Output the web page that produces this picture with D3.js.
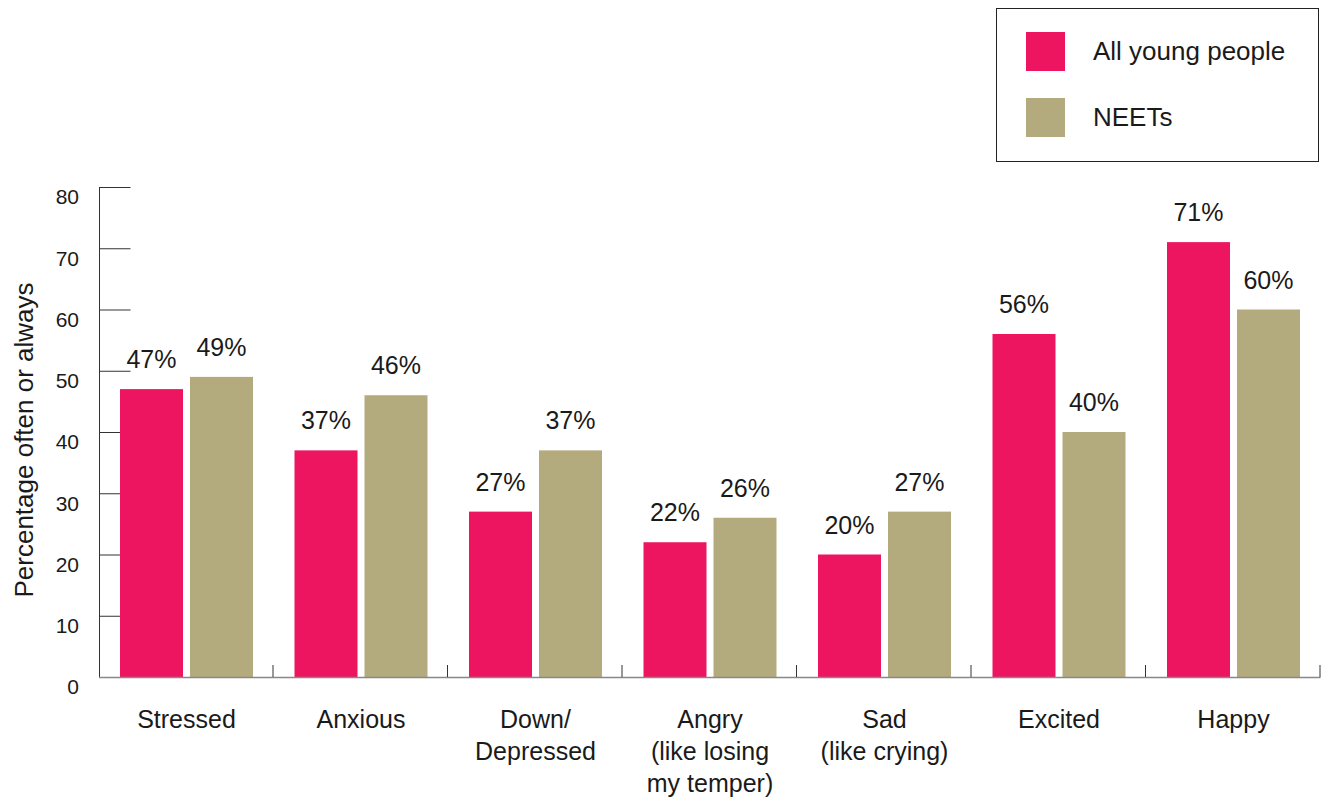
<!DOCTYPE html>
<html>
<head>
<meta charset="utf-8">
<script src="https://cdn.jsdelivr.net/npm/d3@7"></script>
<style>
  html, body { margin: 0; padding: 0; background: #fff; }
  svg { display: block; font-family: "Liberation Sans", Arial, Helvetica, sans-serif; }
</style>
</head>
<body>
<svg id="chart" width="1324" height="798"></svg>
<script>
const categories = ["Stressed", "Anxious", "Down/\nDepressed", "Angry\n(like losing\nmy temper)", "Sad\n(like crying)", "Excited", "Happy"];
const seriesNames = ["All young people", "NEETs"];
const allYoungPeople = [47, 37, 27, 22, 20, 56, 71];
const neets = [49, 46, 37, 26, 27, 40, 60];
const yTicks = [0, 10, 20, 30, 40, 50, 60, 70, 80];
const colors = ["#ED1460", "#B3AB7E"];
const yLabel = "Percentage often or always";

const svg = d3.select("#chart");
const x0 = 99, x1 = 1320.5, yTop = 187, yBot = 677;

const x = d3.scaleBand().domain(d3.range(categories.length)).range([x0, x1]).padding(0);
const xs = d3.scaleBand().domain([0, 1]).range([21, 154]).paddingInner(0.1).paddingOuter(0);
const y = d3.scaleLinear().domain([0, 80]).range([yBot, yTop]);

const series = [allYoungPeople, neets];
const data = [];
categories.forEach((c, i) => series.forEach((s, j) => data.push({ i, j, v: s[i] })));

// Y axis
const yAxis = d3.axisRight(y).tickValues(yTicks).tickSize(31).tickFormat("");
const ya = svg.append("g").attr("transform", `translate(${x0 + 0.5},0)`).call(yAxis);
ya.select(".domain").remove();
ya.selectAll(".tick line").attr("stroke", "#333").attr("stroke-width", 1);
svg.append("line").attr("x1", x0 + 0.5).attr("x2", x0 + 0.5).attr("y1", yTop).attr("y2", yBot)
  .attr("stroke", "#333").attr("stroke-width", 1);

svg.append("g").selectAll("text").data(yTicks).join("text")
  .attr("x", 79).attr("y", d => y(d) + 10).attr("dy", "0.35em")
  .attr("text-anchor", "end").attr("font-size", 21).attr("fill", "#1a1a1a")
  .text(d => d);

svg.append("text")
  .attr("transform", `translate(33,440) rotate(-90)`)
  .attr("text-anchor", "middle").attr("font-size", 26).attr("fill", "#1a1a1a")
  .text(yLabel);

// Bars
svg.append("g").selectAll("rect").data(data).join("rect")
  .attr("x", d => x(d.i) + xs(d.j))
  .attr("width", xs.bandwidth())
  .attr("y", d => y(d.v))
  .attr("height", d => y(0) - y(d.v))
  .attr("fill", d => colors[d.j]);

// Value labels
svg.append("g").selectAll("text").data(data).join("text")
  .attr("x", d => x(d.i) + xs(d.j) + xs.bandwidth() / 2)
  .attr("y", d => y(d.v) - 21)
  .attr("text-anchor", "middle").attr("font-size", 25).attr("fill", "#1a1a1a")
  .text(d => d.v + "%");

// X axis baseline
svg.append("line").attr("x1", x0).attr("x2", x1).attr("y1", yBot + 0.5).attr("y2", yBot + 0.5)
  .attr("stroke", "#888").attr("stroke-width", 1.5);
const boundaries = d3.range(categories.length + 1).map(i => i < categories.length ? x(i) : x1);
svg.append("g").selectAll("line").data(boundaries.slice(1)).join("line")
  .attr("x1", d => d - 0.5).attr("x2", d => d - 0.5).attr("y1", yBot - 12).attr("y2", yBot)
  .attr("stroke", "#333").attr("stroke-width", 1);

// Category labels
const cat = svg.append("g").selectAll("text").data(categories).join("text")
  .attr("text-anchor", "middle").attr("font-size", 25).attr("fill", "#1a1a1a")
  .attr("x", (d, i) => x(i) + xs(0) + (xs(1) + xs.bandwidth() - xs(0)) / 2)
  .attr("y", 728);
cat.each(function (d) {
  const t = d3.select(this);
  d.split("\n").forEach((line, k) => {
    t.append("tspan").attr("x", t.attr("x")).attr("y", 728 + k * 32).text(line);
  });
});

// Legend
const lg = svg.append("g");
lg.append("rect").attr("x", 996.5).attr("y", 8.5).attr("width", 322).attr("height", 153)
  .attr("fill", "none").attr("stroke", "#222").attr("stroke-width", 1);
seriesNames.forEach((name, j) => {
  lg.append("rect").attr("x", 1026).attr("y", 32 + j * 66).attr("width", 39).attr("height", 39)
    .attr("fill", colors[j]);
  lg.append("text").attr("x", 1093).attr("y", 51 + j * 66).attr("dy", "0.35em")
    .attr("font-size", 26).attr("fill", "#1a1a1a").text(name);
});
</script>
</body>
</html>
